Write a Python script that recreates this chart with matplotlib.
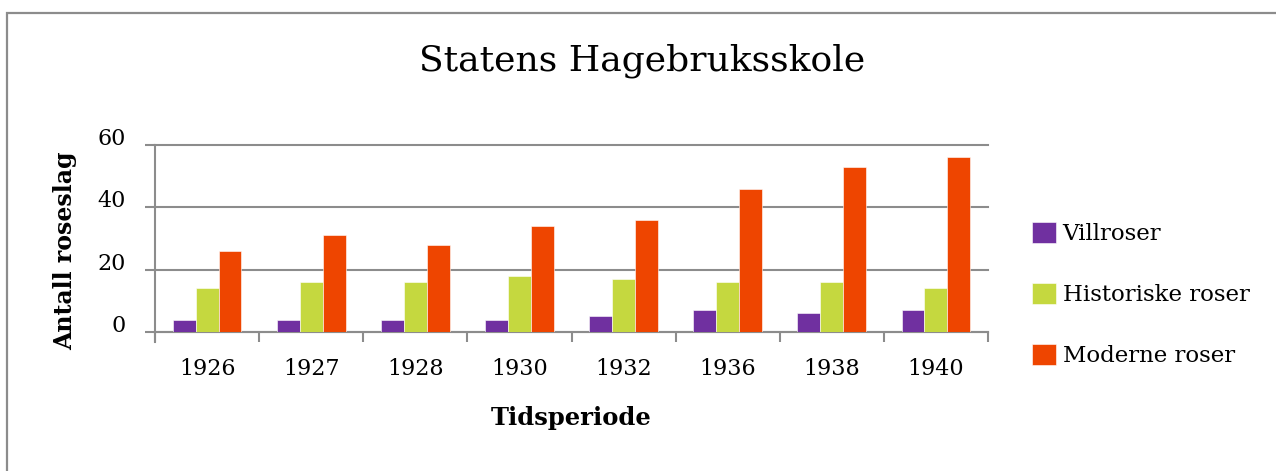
import matplotlib.pyplot as plt
import numpy as np
from matplotlib.patches import Rectangle

# Data
years = ["1926", "1927", "1928", "1930", "1932", "1936", "1938", "1940"]
villroser = [4, 4, 4, 4, 5, 7, 6, 7]
historiske = [14, 16, 16, 18, 17, 16, 16, 14]
moderne = [26, 31, 28, 34, 36, 46, 53, 56]
series_names = ["Villroser", "Historiske roser", "Moderne roser"]
colors = ["#7030A0", "#C5D83F", "#EE4500"]

plt.rcParams["font.family"] = "DejaVu Serif"
grey = "#8c8c8c"

fig = plt.figure(figsize=(12.76, 4.71), dpi=100)
ax = fig.add_axes([155 / 1276, 1 - 332 / 471, (988 - 155) / 1276, (332 - 145) / 471])

x = np.arange(len(years))
w = 0.22
for i, (vals, name, c) in enumerate(zip([villroser, historiske, moderne], series_names, colors)):
    ax.bar(x + (i - 1) * w, vals, width=w, color=c, label=name, zorder=3,
           edgecolor="white", linewidth=0.4)

ax.set_xlim(-0.5, len(years) - 0.5)
ax.set_ylim(0, 60)
ax.set_yticks([0, 20, 40, 60])
ax.grid(axis="y", color=grey, linewidth=1.5, zorder=1)
for gl in ax.get_ygridlines():
    gl.set_clip_on(False)

# category boundary ticks + centered labels
ax.set_xticks(np.arange(-0.5, len(years)))
ax.set_xticklabels([])
ax.set_xticks(x, minor=True)
ax.set_xticklabels(years, minor=True, fontsize=16)
ax.tick_params(axis="x", which="major", length=7, width=1.5, color=grey)
ax.tick_params(axis="x", which="minor", length=0, pad=19)
ax.tick_params(axis="y", length=7, width=1.5, color=grey, labelsize=16, pad=14)
for lab in ax.get_yticklabels():
    lab.set_verticalalignment("baseline")

for s in ["top", "right"]:
    ax.spines[s].set_visible(False)
ax.spines["left"].set_color(grey)
ax.spines["bottom"].set_color(grey)
ax.spines["left"].set_linewidth(1.5)
ax.spines["bottom"].set_linewidth(1.5)
ax.spines["left"].set_bounds(-3.3, 60)

fig.text(0.5035, 1 - 70 / 471, "Statens Hagebruksskole", ha="center", va="baseline", fontsize=26)
fig.text(65 / 1276, 1 - 251 / 471, "Antall roseslag", rotation=90, ha="center", va="center",
         fontsize=17, fontweight="bold")
fig.text(571 / 1276, 1 - 418 / 471, "Tidsperiode", ha="center", va="center",
         fontsize=17.5, fontweight="bold")

leg = ax.legend(loc="upper left", bbox_to_anchor=(1027 / 1276, 1 - 217 / 471),
                bbox_transform=fig.transFigure, frameon=False, fontsize=16.5,
                handlelength=1.05, handleheight=1.05, handletextpad=0.3, labelspacing=1.64,
                borderpad=0.2, borderaxespad=0)

# outer frame
fig.patches.append(Rectangle((7 / 1276, -0.1), 1.2, 1 - 13 / 471 + 0.1, transform=fig.transFigure,
                             fill=False, edgecolor=grey, linewidth=1.6))

fig.savefig("out.png", dpi=100)
